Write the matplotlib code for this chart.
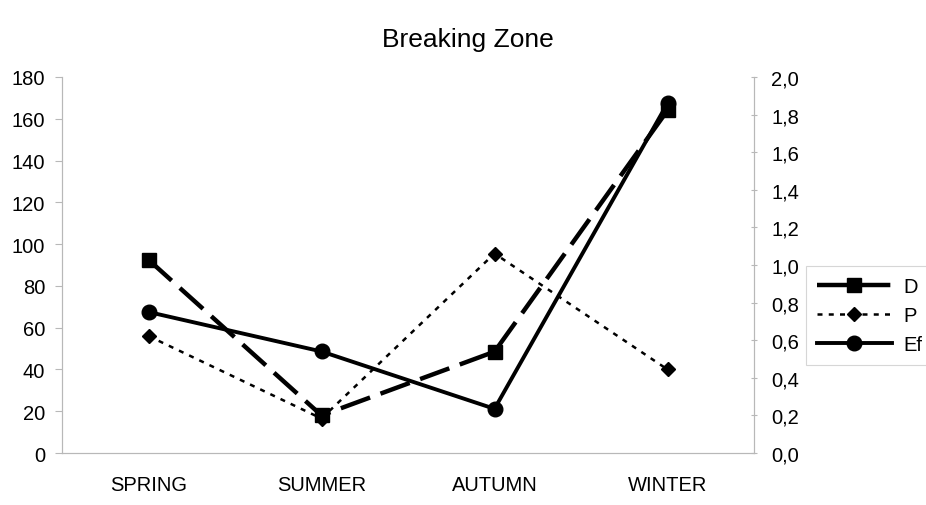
import matplotlib
matplotlib.use("Agg")
import matplotlib.pyplot as plt

plt.rcParams['font.family'] = ['Liberation Sans', 'DejaVu Sans']

seasons = ["SPRING", "SUMMER", "AUTUMN", "WINTER"]
D_vals = [92.5, 18, 48.5, 164]
P_vals = [56, 16.5, 95.5, 40]
Ef_vals = [0.75, 0.54, 0.235, 1.86]
left_ticks = [0, 20, 40, 60, 80, 100, 120, 140, 160, 180]
right_ticks = [0.0, 0.2, 0.4, 0.6, 0.8, 1.0, 1.2, 1.4, 1.6, 1.8, 2.0]

fig = plt.figure(figsize=(9.26, 5.06), dpi=100)
ax = fig.add_axes([62/926, 1-454/506, (754-62)/926, (454-78)/506])
ax2 = ax.twinx()

x = list(range(len(seasons)))
lD, = ax.plot(x, D_vals, color='black', lw=3.2, marker='s', markersize=9.5,
              dashes=(7, 2.5), label='D', zorder=3)
lP, = ax.plot(x, P_vals, color='black', lw=1.8, marker='D', markersize=7.5,
              dashes=(2, 2.5), label='P', zorder=3)
lE, = ax2.plot(x, Ef_vals, color='black', lw=2.8, marker='o', markersize=10.5,
               label='Ef', zorder=3)

ax.set_xlim(-0.5, 3.5)
ax.set_ylim(0, 180)
ax2.set_ylim(0, 2.0)
ax.set_yticks(left_ticks)
ax.set_yticklabels([str(t) for t in left_ticks])
ax2.set_yticks(right_ticks)
ax2.set_yticklabels([f"{t:.1f}".replace('.', ',') for t in right_ticks])
ax.set_xticks(x)
ax.set_xticklabels(seasons)

gray = '#b8b8b8'
for a in (ax, ax2):
    a.spines['top'].set_visible(False)
    for s in ('left', 'right', 'bottom'):
        a.spines[s].set_color(gray)
        a.spines[s].set_linewidth(0.8)
ax.tick_params(axis='y', labelsize=14.5, length=5, color=gray, pad=7)
ax2.tick_params(axis='y', labelsize=14.5, length=5, color=gray, pad=10, direction='inout')
ax.tick_params(axis='x', labelsize=14.5, length=0, pad=15.5)

fig.text(468/926, 1-40/506, "Breaking Zone", ha='center', va='center', fontsize=19)

leg = fig.legend(handles=[lD, lP, lE], loc='upper left',
                 bbox_to_anchor=(806/926, 1-267/506), borderaxespad=0,
                 fontsize=14.5, handlelength=3.7, handletextpad=0.6,
                 labelspacing=0.5, borderpad=0.55, fancybox=False, frameon=True)
leg.get_frame().set_edgecolor('#cccccc')
leg.get_frame().set_linewidth(0.8)

fig.savefig("out.png", dpi=100)
